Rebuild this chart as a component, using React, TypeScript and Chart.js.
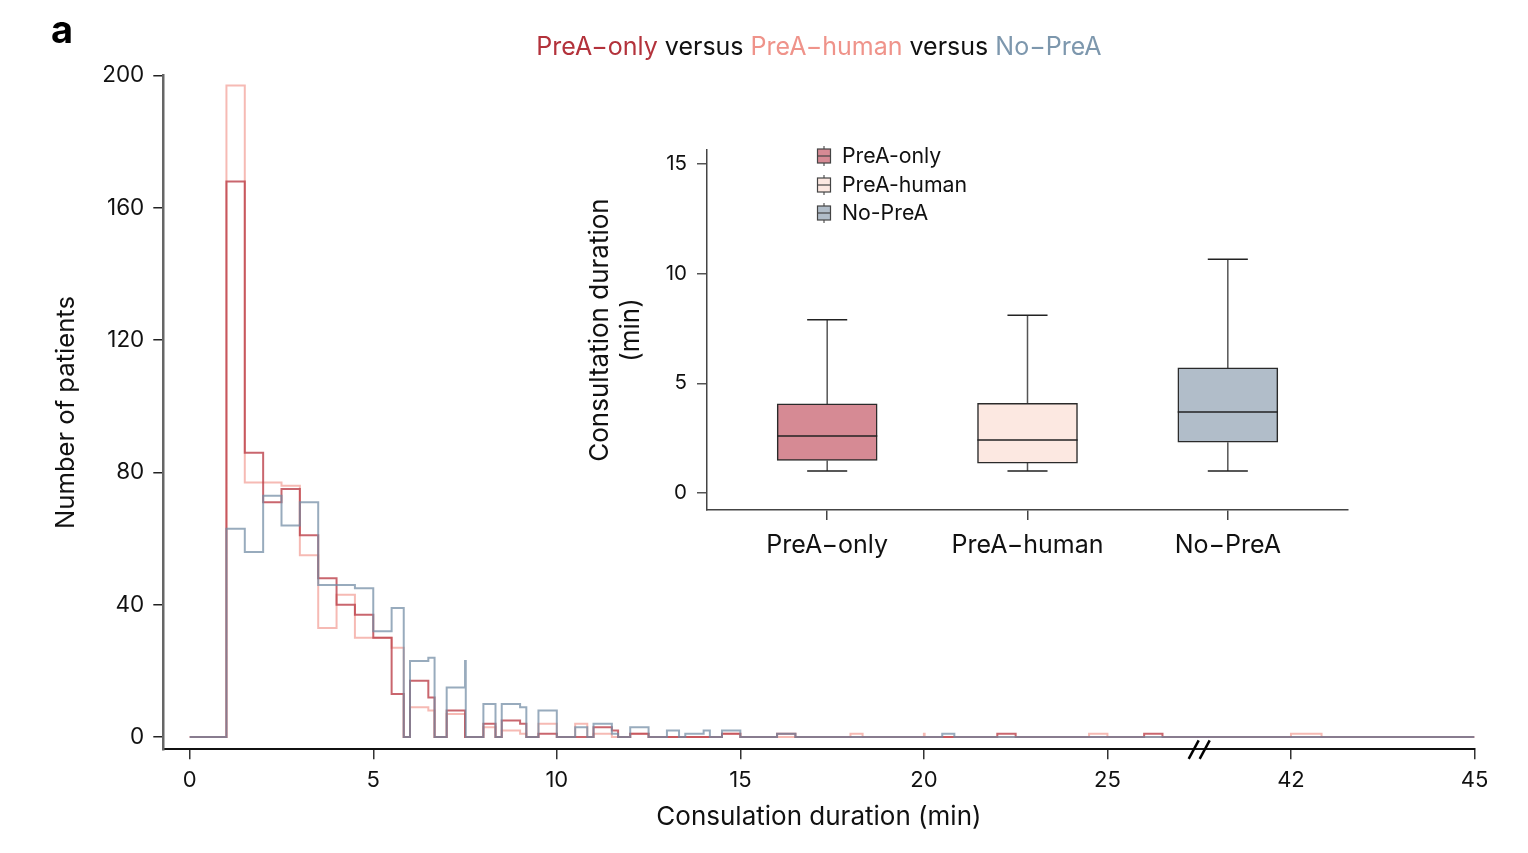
import React, { useEffect, useRef } from "react";
import { Chart, registerables } from "chart.js";

Chart.register(...registerables);

const FONT = "Inter, 'Noto Sans', sans-serif";

// ---- Histogram data (bin edges in minutes, counts per bin) ----
const binEdges = [
  0, 1, 1.5, 2, 2.5, 3, 3.5, 4, 4.5, 5, 5.5, 5.83, 6, 6.5, 6.67, 7, 7.5, 7.52, 8, 8.33,
  8.5, 9, 9.17, 9.5, 10, 10.5, 10.83, 11, 11.5, 11.67, 12, 12.5, 13, 13.33, 13.5, 14, 14.17,
  14.5, 15, 16, 16.5, 18, 18.33, 20, 20.02, 20.5, 20.83, 22, 22.5, 24.5, 25, 26, 26.5, 42,
  42.5, 45,
];
const preaOnlyCounts = [
  0, 168, 86, 71, 75, 61, 48, 40, 37, 30, 13, 0, 17, 12, 0, 8, 0, 0, 4, 0,
  5, 4, 0, 1, 0, 0, 0, 3, 2, 0, 1, 0, 0, 0, 0, 0, 0,
  1, 0, 1, 0, 0, 0, 0, 0, 0, 0, 1, 0, 0, 0, 1, 0, 0, 0,
];
const preaHumanCounts = [
  0, 197, 77, 77, 76, 55, 33, 43, 30, 30, 27, 0, 9, 8, 0, 7, 0, 0, 3, 0,
  2, 1, 0, 4, 0, 4, 0, 1, 0, 0, 1, 0, 0, 0, 0, 0, 0,
  1, 0, 0, 0, 1, 0, 1, 0, 0, 0, 0, 0, 1, 0, 0, 0, 1, 0,
];
const noPreaCounts = [
  0, 63, 56, 73, 64, 71, 46, 46, 45, 32, 39, 0, 23, 24, 0, 15, 23, 0, 10, 0,
  10, 9, 0, 8, 0, 3, 0, 4, 1, 0, 3, 0, 2, 0, 1, 2, 0,
  2, 0, 1, 0, 0, 0, 0, 0, 1, 0, 0, 0, 0, 0, 0, 0, 0, 0,
];
const xTickValues = [0, 5, 10, 15, 20, 25, 42, 45];
const yTickValues = [0, 40, 80, 120, 160, 200];
const titleParts: [string, string][] = [
  ["PreA\u2212only", "#b3323b"],
  [" versus ", "#111111"],
  ["PreA\u2212human", "#ef938a"],
  [" versus ", "#111111"],
  ["No\u2212PreA", "#7d97ad"],
];

// ---- Box plot data (minutes) ----
const boxCategories = ["PreA\u2212only", "PreA\u2212human", "No\u2212PreA"];
const legendLabels = ["PreA-only", "PreA-human", "No-PreA"];
const boxMin = [1.0, 1.0, 1.0];
const boxQ1 = [1.48, 1.36, 2.31];
const boxMedian = [2.6, 2.41, 3.69];
const boxQ3 = [4.06, 4.08, 5.7];
const boxMax = [7.9, 8.1, 10.66];
const boxTicks = [0, 5, 10, 15];

const lineColors = ["rgba(188,64,74,0.8)", "rgba(240,140,130,0.6)", "rgba(112,138,163,0.72)"];
const boxFills = ["#d68a94", "#fce8e1", "#b1bdc9"];

// axis break: real minutes > 27.5 are compressed (42 -> 30, 45 -> 35)
function toDisplay(v: number) {
  return v <= 27.5 ? v : 30 + ((v - 42) * 5) / 3;
}

function stepPoints(counts: number[]) {
  return binEdges.map((e, i) => ({ x: toDisplay(e), y: i < counts.length ? counts[i] : 0 }));
}

const mainDecor = {
  id: "mainDecor",
  afterDraw(chart: any) {
    const ctx = chart.ctx;
    const ca = chart.chartArea;
    ctx.save();
    // multicolour title
    ctx.font = `25px ${FONT}`;
    ctx.textBaseline = "middle";
    ctx.textAlign = "left";
    const widths = titleParts.map((p) => ctx.measureText(p[0]).width);
    const total = widths.reduce((a, b) => a + b, 0);
    let x = (ca.left + ca.right) / 2 - total / 2;
    titleParts.forEach((p, i) => {
      ctx.fillStyle = p[1];
      ctx.fillText(p[0], x, 47);
      x += widths[i];
    });
    // panel letter
    ctx.font = `bold 38px ${FONT}`;
    ctx.fillStyle = "#000";
    ctx.textBaseline = "alphabetic";
    ctx.fillText("a", 51, 43);
    // axis break marks
    const bx = chart.scales.x.getPixelForValue(27.5);
    const by = ca.bottom;
    ctx.strokeStyle = "#000";
    ctx.lineWidth = 2.5;
    [-5.5, 5.5].forEach((off) => {
      ctx.beginPath();
      ctx.moveTo(bx + off - 5, by + 9.5);
      ctx.lineTo(bx + off + 5, by - 9);
      ctx.stroke();
    });
    ctx.restore();
  },
};

const boxDecor = {
  id: "boxDecor",
  beforeDatasetsDraw(chart: any) {
    const ctx = chart.ctx;
    const xs = chart.scales.x;
    const ys = chart.scales.y;
    ctx.save();
    boxCategories.forEach((_, i) => {
      const cx = xs.getPixelForValue(i + 1);
      const capL = xs.getPixelForValue(i + 1 - 0.1);
      const capR = xs.getPixelForValue(i + 1 + 0.1);
      ctx.strokeStyle = "#555";
      ctx.lineWidth = 1.5;
      ctx.beginPath();
      ctx.moveTo(cx, ys.getPixelForValue(boxQ3[i]));
      ctx.lineTo(cx, ys.getPixelForValue(boxMax[i]));
      ctx.moveTo(cx, ys.getPixelForValue(boxQ1[i]));
      ctx.lineTo(cx, ys.getPixelForValue(boxMin[i]));
      ctx.stroke();
      ctx.strokeStyle = "#222";
      ctx.beginPath();
      ctx.moveTo(capL, ys.getPixelForValue(boxMax[i]));
      ctx.lineTo(capR, ys.getPixelForValue(boxMax[i]));
      ctx.moveTo(capL, ys.getPixelForValue(boxMin[i]));
      ctx.lineTo(capR, ys.getPixelForValue(boxMin[i]));
      ctx.stroke();
    });
    ctx.restore();
  },
  afterDatasetsDraw(chart: any) {
    const ctx = chart.ctx;
    const xs = chart.scales.x;
    const ys = chart.scales.y;
    ctx.save();
    ctx.strokeStyle = "#222";
    ctx.lineWidth = 1.5;
    boxCategories.forEach((_, i) => {
      const l = xs.getPixelForValue(i + 1 - 0.25);
      const r = xs.getPixelForValue(i + 1 + 0.25);
      const y = ys.getPixelForValue(boxMedian[i]);
      ctx.beginPath();
      ctx.moveTo(l, y);
      ctx.lineTo(r, y);
      ctx.stroke();
    });
    // legend
    const lx = 264;
    const rows = [36, 65, 93];
    legendLabels.forEach((lab, i) => {
      const y = rows[i];
      ctx.strokeStyle = "#555";
      ctx.lineWidth = 1.2;
      ctx.beginPath();
      ctx.moveTo(lx, y - 10);
      ctx.lineTo(lx, y + 10);
      ctx.stroke();
      ctx.fillStyle = boxFills[i];
      ctx.fillRect(lx - 6.5, y - 7, 13, 14);
      ctx.strokeStyle = "#444";
      ctx.strokeRect(lx - 6.5, y - 7, 13, 14);
      ctx.beginPath();
      ctx.moveTo(lx - 6.5, y);
      ctx.lineTo(lx + 6.5, y);
      ctx.stroke();
      ctx.fillStyle = "#111";
      ctx.font = `21.3px ${FONT}`;
      ctx.textBaseline = "middle";
      ctx.textAlign = "left";
      ctx.fillText(lab, lx + 18, y + 1);
    });
    ctx.restore();
  },
};

export default function App() {
  const mainRef = useRef<HTMLCanvasElement>(null);
  const insetRef = useRef<HTMLCanvasElement>(null);

  useEffect(() => {
    const main = new Chart(mainRef.current as HTMLCanvasElement, {
      type: "line",
      data: {
        // first dataset is drawn on top
        datasets: [
          { label: "No-PreA", data: stepPoints(noPreaCounts), borderColor: lineColors[2] },
          { label: "PreA-only", data: stepPoints(preaOnlyCounts), borderColor: lineColors[0] },
          { label: "PreA-human", data: stepPoints(preaHumanCounts), borderColor: lineColors[1] },
        ].map((d) => ({
          ...d,
          stepped: "before" as const,
          borderWidth: 2,
          pointRadius: 0,
          fill: false,
          tension: 0,
        })),
      },
      options: {
        responsive: false,
        animation: false,
        events: [],
        layout: { padding: { left: 0, top: 75.7, right: 53.5, bottom: 0 } },
        plugins: { legend: { display: false }, tooltip: { enabled: false } },
        scales: {
          x: {
            type: "linear",
            min: -0.72,
            max: 35,
            afterBuildTicks: (s: any) => {
              s.ticks = xTickValues.map((v) => ({ value: toDisplay(v) }));
            },
            afterFit: (s: any) => {
              s.height = 103.7;
            },
            ticks: {
              callback: (_v: any, i: number) => String(xTickValues[i]),
              font: { size: 22, family: FONT },
              color: "#111",
              padding: 8,
              maxRotation: 0,
              autoSkip: false,
            },
            grid: { drawOnChartArea: false, drawTicks: true, tickLength: 10, color: "#333", lineWidth: 1.5 },
            border: { display: true, color: "#111", width: 2 },
            title: {
              display: true,
              text: "Consulation duration (min)",
              font: { size: 26, family: FONT },
              color: "#111",
              padding: { top: 0, bottom: 20.5 },
            },
          },
          y: {
            type: "linear",
            min: -3.7,
            max: 200,
            afterBuildTicks: (s: any) => {
              s.ticks = yTickValues.map((v) => ({ value: v }));
            },
            afterFit: (s: any) => {
              s.width = 163.3;
            },
            ticks: { font: { size: 22.5, family: FONT }, color: "#111", padding: 9 },
            grid: { drawOnChartArea: false, drawTicks: true, tickLength: 10, color: "#222", lineWidth: 1.5 },
            border: { display: true, color: "#666", width: 2.5 },
            title: {
              display: true,
              text: "Number of patients",
              font: { size: 25.6, family: FONT },
              color: "#111",
              padding: { top: 50.6, bottom: 0 },
            },
          },
        },
      },
      plugins: [mainDecor],
    } as any);

    const inset = new Chart(insetRef.current as HTMLCanvasElement, {
      type: "bar",
      data: {
        datasets: [
          {
            label: "box",
            data: boxCategories.map((_, i) => ({ x: i + 1, y: [boxQ1[i], boxQ3[i]] })),
            backgroundColor: boxFills,
            borderColor: "#2a2a2a",
            borderWidth: 1.5,
            borderSkipped: false,
            barThickness: 100,
          },
        ],
      },
      options: {
        responsive: false,
        animation: false,
        events: [],
        layout: { padding: { left: 0, top: 30, right: 12, bottom: 0 } },
        plugins: { legend: { display: false }, tooltip: { enabled: false } },
        scales: {
          x: {
            type: "linear",
            offset: false,
            min: 0.4,
            max: 3.6,
            afterBuildTicks: (s: any) => {
              s.ticks = boxCategories.map((_, i) => ({ value: i + 1 }));
            },
            afterFit: (s: any) => {
              s.height = 70;
            },
            ticks: {
              callback: (_v: any, i: number) => boxCategories[i],
              font: { size: 25, family: FONT },
              color: "#111",
              padding: 10,
              maxRotation: 0,
              autoSkip: false,
            },
            grid: { offset: false, drawOnChartArea: false, drawTicks: true, tickLength: 10, color: "#444", lineWidth: 1.5 },
            border: { display: true, color: "#444", width: 1.5 },
          },
          y: {
            type: "linear",
            min: -0.78,
            max: 15.64,
            afterBuildTicks: (s: any) => {
              s.ticks = boxTicks.map((v) => ({ value: v }));
            },
            afterFit: (s: any) => {
              s.width = 147;
            },
            ticks: { font: { size: 20.5, family: FONT }, color: "#111", padding: 10 },
            grid: { drawOnChartArea: false, drawTicks: true, tickLength: 10, color: "#555", lineWidth: 1.5 },
            border: { display: true, color: "#444", width: 1.5 },
            title: {
              display: true,
              text: ["Consultation duration", "(min)"],
              font: { size: 26, family: FONT, lineHeight: 1.2 },
              color: "#111",
              padding: { top: 24.4, bottom: 0 },
            },
          },
        },
      },
      plugins: [boxDecor],
    } as any);

    return () => {
      main.destroy();
      inset.destroy();
    };
  }, []);

  return (
    <div style={{ position: "fixed", left: 0, top: 0, width: 1528, height: 853, background: "#fff" }}>
      <canvas
        ref={mainRef}
        width={1528}
        height={853}
        style={{ position: "absolute", left: 0, top: 0, width: 1528, height: 853 }}
      />
      <canvas
        ref={insetRef}
        width={800}
        height={460}
        style={{ position: "absolute", left: 560, top: 120, width: 800, height: 460 }}
      />
    </div>
  );
}
